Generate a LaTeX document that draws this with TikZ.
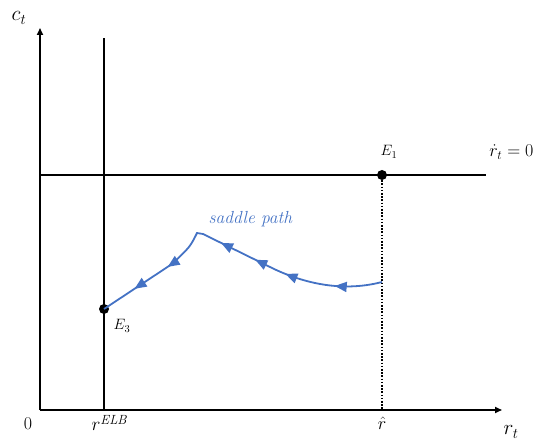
\RequirePackage{fix-cm}
\documentclass[tikz,border=0pt]{standalone}
\usepackage{amsmath}
\usetikzlibrary{arrows.meta,decorations.markings}
\definecolor{pathblue}{RGB}{68,114,196}
\begin{document}
\begin{tikzpicture}[x=1pt,y=-1pt,
  axis/.style={line width=1.6pt,-{Triangle[length=7pt,width=6pt]}},
  plainline/.style={line width=1.6pt},
  dotline/.style={line width=1.8pt,dash pattern=on 1.6pt off 1.6pt},
  eqdot/.style={circle,fill=black,inner sep=0pt,minimum size=10pt},
  blab/.style={font=\fontsize{18}{20}\selectfont},
  slab/.style={font=\fontsize{15}{17}\selectfont},
  saddle/.style={pathblue,line width=1.8pt,line join=miter}
]
\useasboundingbox (0,0) rectangle (538,443);
\coordinate (O) at (40,410);
\coordinate (ytop) at (40,28);
\coordinate (xend) at (502,410);
\draw[axis] (O) -- (ytop);
\draw[axis] (O) -- (xend);
\coordinate (elbtop) at (104,38);
\coordinate (elbbot) at (104,410);
\draw[plainline] (elbbot) -- (elbtop);
\coordinate (hl) at (40,175);
\coordinate (hr) at (486,175);
\draw[plainline] (hl) -- (hr);
\node[eqdot] (E1) at (382,175) {};
\coordinate (rhatbot) at (382,410);
\draw[dotline] (E1) -- (rhatbot);
\node[eqdot] (E3) at (104,309) {};
% saddle path
\coordinate (s0) at (382,282);
\coordinate (s1) at (270,267);
\coordinate (s2) at (203,234);
\coordinate (s3) at (197,233);
\coordinate (s4) at (172,264);
\draw[saddle,
  postaction={decorate},
  decoration={markings,
    mark=at position 0.15 with {\arrow{Triangle[length=12pt,width=10pt]}},
    mark=at position 0.31 with {\arrow{Triangle[length=12pt,width=10pt]}},
    mark=at position 0.415 with {\arrow{Triangle[length=12pt,width=10pt]}},
    mark=at position 0.535 with {\arrow{Triangle[length=12pt,width=10pt]}},
    mark=at position 0.76 with {\arrow{Triangle[length=12pt,width=10pt]}},
    mark=at position 0.885 with {\arrow{Triangle[length=12pt,width=10pt]}}}]
  (s0) .. controls (340,293) and (300,282) .. (s1) -- (s2) -- (s3)
  .. controls (190,247) .. (s4) -- (E3.center);
\node[pathblue,font=\fontsize{17.5}{19}\selectfont\itshape,anchor=west] (sp) at (205,219) {saddle path};
% labels
\node[font=\fontsize{21}{23}\selectfont] (ct) at (19,18) {$c_t$};
\node[font=\fontsize{21}{23}\selectfont] (rt) at (511,432) {$r_t$};
\node[blab] (zero) at (28,424) {$0$};
\node[font=\fontsize{19}{21}\selectfont] (relb) at (110,423) {$r^{\mathit{ELB}}$};
\node[blab] (rhat) at (382,423) {$\hat{r}$};
\node[slab] (E1l) at (389,152) {$E_1$};
\node[slab] (E3l) at (122,326) {$E_3$};
\node[blab,anchor=east] (rdot) at (537,152) {$\dot{r}_t=0$};
\end{tikzpicture}
\end{document}
